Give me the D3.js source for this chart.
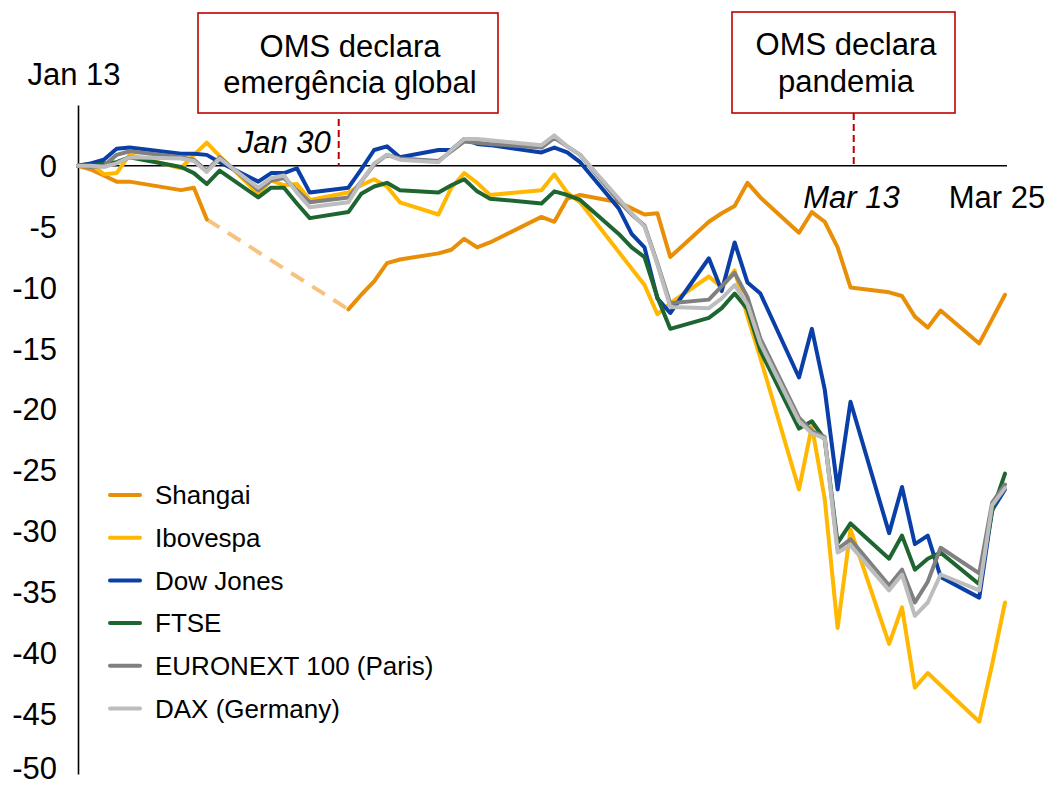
<!DOCTYPE html>
<html><head><meta charset="utf-8">
<script src="https://cdn.jsdelivr.net/npm/d3@7"></script>
<style>
body{margin:0;background:#fff}
svg{display:block;background:#fff}
text{font-family:"Liberation Sans",Arial,Helvetica,sans-serif;fill:#000}
</style>
</head><body>
<svg id="chart" width="1051" height="786"></svg>
<script>
// ---------- DATA (cumulative % change since Jan 13, 2020) ----------
const dates = ["2020-01-13","2020-01-14","2020-01-15","2020-01-16","2020-01-17","2020-01-21","2020-01-22","2020-01-23","2020-01-24","2020-01-27","2020-01-28","2020-01-29","2020-01-30","2020-01-31",
"2020-02-03","2020-02-04","2020-02-05","2020-02-06","2020-02-07","2020-02-10","2020-02-11","2020-02-12","2020-02-13","2020-02-14","2020-02-18","2020-02-19","2020-02-20","2020-02-21","2020-02-24","2020-02-25","2020-02-26","2020-02-27","2020-02-28",
"2020-03-02","2020-03-03","2020-03-04","2020-03-05","2020-03-06","2020-03-09","2020-03-10","2020-03-11","2020-03-12","2020-03-13","2020-03-16","2020-03-17","2020-03-18","2020-03-19","2020-03-20","2020-03-23","2020-03-24","2020-03-25"];

const shangai = [0,-0.3,-0.8,-1.3,-1.3,-2.0,-1.8,-4.4,null,null,null,null,null,null,
-11.8,-10.6,-9.5,-8.0,-7.7,-7.2,-6.9,-6.0,-6.7,-6.3,-4.2,-4.6,-2.7,-2.4,-3.0,-3.5,-4.0,-3.9,-7.5,
-4.6,-3.9,-3.3,-1.4,-2.6,-5.5,-3.8,-4.6,-6.7,-10.0,-10.4,-10.7,-12.4,-13.3,-11.9,-14.6,-12.6,-10.6];

const ibovespa = [0,0.2,-0.7,-0.6,0.9,-0.2,0.9,1.9,0.8,-2.3,-1.2,-1.6,-1.5,-2.8,
-2.2,-1.6,-1.1,-1.7,-3.0,-4.0,-1.8,-0.6,-1.4,-2.4,-2.0,-0.7,-2.2,-3.0,null,null,-9.8,-12.2,-11.3,
-9.1,-10.0,-8.6,-12.4,-15.8,-26.6,-21.4,-27.4,-38.0,-29.9,-39.3,-36.3,-42.9,-41.7,-42.7,-45.7,-41.0,-35.9];

const dowJones = [0,0.2,0.5,1.4,1.5,1.0,1.0,0.9,0.3,-1.3,-0.6,-0.6,-0.2,-2.2,
-1.8,-0.3,1.3,1.6,0.7,1.3,1.3,2.2,1.8,1.7,1.1,1.5,1.1,0.3,-3.5,-5.6,-6.7,-10.9,-12.1,
-7.6,-10.3,-6.3,-9.6,-10.5,-17.4,-13.4,-18.4,-26.6,-19.4,-30.2,-26.4,-31.1,-30.4,-33.8,-35.5,-28.3,-26.6];

const ftse = [0,0.0,0.2,0.3,0.7,-0.1,-0.6,-1.5,-0.4,-2.6,-1.8,-1.8,-3.1,-4.3,
-3.8,-2.3,-1.7,-1.4,-2.0,-2.2,-1.6,-1.1,-2.1,-2.7,-3.1,-2.1,-2.4,-2.8,-5.6,-6.7,-7.5,-10.8,-13.4,
-12.5,-11.7,-10.5,-11.8,-15.2,-21.6,-21.0,-22.5,-31.0,-29.4,-32.3,-30.4,-33.2,-32.3,-31.8,-34.4,-28.4,-25.3];

const euronext = [0,-0.1,0.0,0.9,1.2,0.7,0.5,-0.4,0.7,-2.0,-1.2,-1.0,-2.0,-3.0,
-2.6,-1.3,0.1,0.9,0.6,0.4,1.2,2.0,1.9,1.8,1.5,2.3,1.6,0.9,-2.9,-4.0,-4.9,-8.0,-11.3,
-11.0,-9.9,-8.8,-10.8,-14.2,-20.7,-21.8,-22.3,-31.5,-30.7,-34.5,-33.2,-35.9,-34.2,-31.4,-33.5,-27.7,-26.2];

const dax = [0,0.0,-0.1,0.2,0.7,0.6,0.4,-0.5,0.6,-1.8,-1.0,-0.8,-2.2,-3.4,
-3.0,-1.3,0.2,0.9,0.5,0.3,1.3,2.2,2.2,2.1,1.7,2.5,1.6,0.9,-2.7,-3.9,-5.0,-8.1,-11.6,
-11.7,-10.9,-9.8,-11.4,-14.6,-21.0,-22.0,-22.4,-31.8,-31.2,-34.9,-33.6,-37.0,-35.9,-33.6,-34.9,-27.9,-26.5];

const seriesNames = ["Shangai","Ibovespa","Dow Jones","FTSE","EURONEXT 100 (Paris)","DAX (Germany)"];
const seriesValues = [shangai, ibovespa, dowJones, ftse, euronext, dax];
const yTickValues = [0,-5,-10,-15,-20,-25,-30,-35,-40,-45,-50];
const dateLabels = ["Jan 13","Jan 30","Mar 13","Mar 25"];
const eventDates = ["2020-02-02T06:00","2020-03-13T06:00"];
const eventTexts = [["OMS declara","emergência global"],["OMS declara","pandemia"]];

// ---------- STYLE ----------
const colors = ["#E98F07","#FFB700","#0B3FA8","#1E6631","#808080","#BDBDBD"];
const gapMode = ["dash","connect","connect","connect","connect","connect"];
const dashColor = "#F6C27E";
const red = "#C00000";
const FONT = 31;
const LW = 4;

const parse = d3.utcParse("%Y-%m-%d");
const parseT = d3.utcParse("%Y-%m-%dT%H:%M");
const dts = dates.map(parse);

const svg = d3.select("#chart");
const x = d3.scaleUtc().domain([dts[0], dts[dts.length-1]]).range([78, 1005]);
const y = d3.scaleLinear().domain([-50, 5]).range([774, 105]);

// y axis
const yAxis = svg.append("g").attr("transform","translate(78,0)")
  .call(d3.axisLeft(y).tickValues(yTickValues).tickSize(0).tickSizeOuter(0).tickPadding(21).tickFormat(d => String(d)));
yAxis.attr("font-family",null).attr("font-size",null);
yAxis.select(".domain").attr("stroke","#000").attr("stroke-width",1.6);
yAxis.selectAll("text").attr("font-size",FONT).attr("dy","0.35em").style("fill","#000");
// keep the lowest label inside the picture
yAxis.selectAll(".tick").filter(d => d === -50).select("text").attr("dy","0.16em");

// zero line
svg.append("line").attr("x1",x.range()[0]).attr("x2",x.range()[1]+2)
  .attr("y1",y(0)).attr("y2",y(0)).attr("stroke","#000").attr("stroke-width",1.6);

// event markers
const boxes = [{x0:198,y0:13,w:300,h:100,lineTop:119,tx:350,ty:[57,93]},
               {x0:732,y0:12,w:223,h:101,lineTop:113,tx:846,ty:[55,92]}];
eventDates.forEach((ed,i)=>{
  const b = boxes[i];
  const ex = x(parseT(ed));
  svg.append("line").attr("x1",ex).attr("x2",ex).attr("y1",b.lineTop).attr("y2",y(0))
    .attr("stroke",red).attr("stroke-width",2).attr("stroke-dasharray","7,4");
  svg.append("rect").attr("x",b.x0).attr("y",b.y0).attr("width",b.w).attr("height",b.h)
    .attr("fill","#fff").attr("stroke",red).attr("stroke-width",1.6);
  eventTexts[i].forEach((t,j)=>{
    svg.append("text").attr("x",b.tx).attr("y",b.ty[j]).attr("text-anchor","middle")
      .attr("font-size",FONT).text(t);
  });
});

// date labels
const ev1 = x(parseT(eventDates[0]));
svg.append("text").attr("x",x(dts[0])-4).attr("y",85).attr("text-anchor","middle").attr("font-size",FONT).text(dateLabels[0]);
svg.append("text").attr("x",ev1-8).attr("y",153).attr("text-anchor","end").attr("font-size",FONT).attr("font-style","italic").text(dateLabels[1]);
svg.append("text").attr("x",x(parse("2020-03-13"))+1).attr("y",208).attr("text-anchor","middle").attr("font-size",FONT).attr("font-style","italic").text(dateLabels[2]);
svg.append("text").attr("x",x(dts[dts.length-1])-8).attr("y",208).attr("text-anchor","middle").attr("font-size",FONT).text(dateLabels[3]);

// series
const line = d3.line().x(d=>x(d.date)).y(d=>y(d.v));
seriesValues.forEach((vals,si)=>{
  const pts = dts.map((d,i)=>({date:d, v:vals[i]}));
  const g = svg.append("g");
  if (gapMode[si] === "dash") {
    for (let i=1;i<pts.length;i++){
      if (pts[i].v == null && pts[i-1].v != null){
        let j=i; while(j<pts.length && pts[j].v==null) j++;
        if (j<pts.length){
          g.append("path").attr("d", line([pts[i-1], pts[j]])).attr("fill","none")
            .attr("stroke",dashColor).attr("stroke-width",LW).attr("stroke-dasharray","15,10");
        }
      }
    }
    g.append("path").attr("d", line.defined(d=>d.v!=null)(pts)).attr("fill","none")
      .attr("stroke",colors[si]).attr("stroke-width",LW).attr("stroke-linejoin","round").attr("stroke-linecap","round");
    line.defined(()=>true);
  } else {
    g.append("path").attr("d", line(pts.filter(d=>d.v!=null))).attr("fill","none")
      .attr("stroke",colors[si]).attr("stroke-width",LW).attr("stroke-linejoin","round").attr("stroke-linecap","round");
  }
});

// legend
const leg = svg.append("g");
seriesNames.forEach((n,i)=>{
  const ly = 495 + i*42.7;
  leg.append("line").attr("x1",110).attr("x2",140).attr("y1",ly).attr("y2",ly)
    .attr("stroke",colors[i]).attr("stroke-width",4).attr("stroke-linecap","round");
  leg.append("text").attr("x",155).attr("y",ly).attr("dy","0.36em").attr("font-size",26).text(n);
});
</script>
</body></html>
